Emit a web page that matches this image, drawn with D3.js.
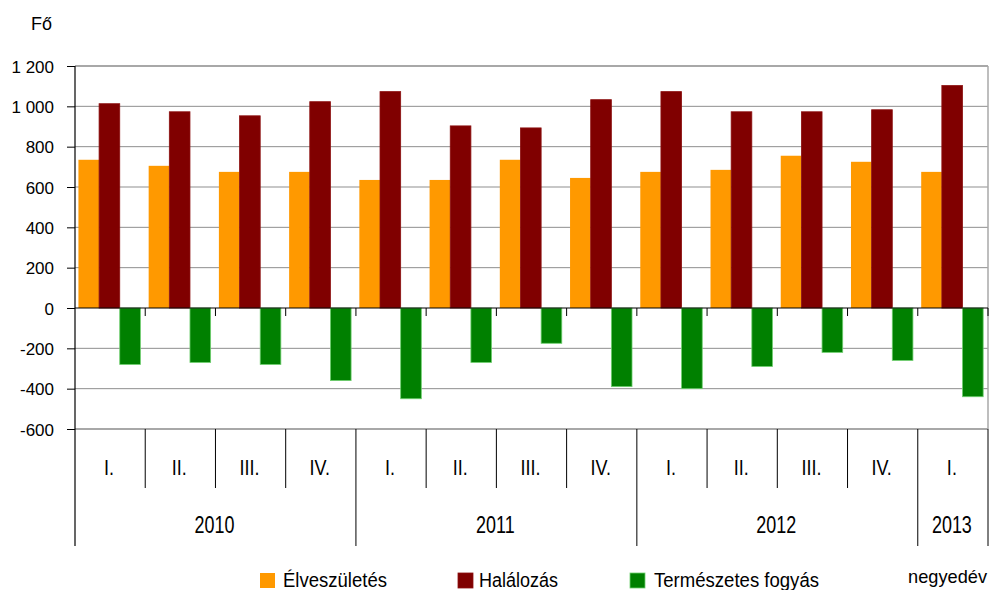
<!DOCTYPE html>
<html>
<head>
<meta charset="utf-8">
<script src="https://cdn.jsdelivr.net/npm/d3@7/dist/d3.min.js"></script>
<style>
  html, body { margin: 0; padding: 0; background: #fff; }
  svg { display: block; font-family: "Liberation Sans", Arial, sans-serif; }
</style>
</head>
<body>
<svg id="chart" width="989" height="590"></svg>
<script>
// ---- data ----
const quarters = ["I.", "II.", "III.", "IV.", "I.", "II.", "III.", "IV.", "I.", "II.", "III.", "IV.", "I."];
const years = ["2010", "2010", "2010", "2010", "2011", "2011", "2011", "2011", "2012", "2012", "2012", "2012", "2013"];
const yearLabels = ["2010", "2011", "2012", "2013"];
const births = [735, 705, 675, 675, 635, 635, 735, 645, 675, 685, 755, 725, 675];
const deaths = [1013, 973, 953, 1023, 1073, 903, 893, 1033, 1073, 973, 973, 983, 1103];
const naturalDecrease = [-280, -270, -280, -360, -450, -270, -175, -390, -400, -290, -220, -260, -440];
const seriesNames = ["Élveszületés", "Halálozás", "Természetes fogyás"];
const yTicks = [-600, -400, -200, 0, 200, 400, 600, 800, 1000, 1200];
const yTickLabels = ["-600", "-400", "-200", "0", "200", "400", "600", "800", "1 000", "1 200"];
const yUnit = "Fő";
const xUnit = "negyedév";

const colors = ["#FF9900", "#800000", "#008000"];
const strokes = ["#FF9900", "#8c1010", "#6fcf6f"];

const svg = d3.select("#chart");
const pLeft = 75, pRight = 988, pTop = 66, pBottom = 429;

const idx = quarters.map((d, i) => i);
const x = d3.scaleBand().domain(idx).range([pLeft, pRight]).paddingInner(0).paddingOuter(0);
const xs = d3.scaleBand().domain([0, 1, 2]).range([0, x.bandwidth()]).paddingInner(0).paddingOuter(0.2);
const y = d3.scaleLinear().domain([-600, 1200]).range([pBottom, pTop]);

// gridlines
svg.append("g").selectAll("line").data(yTicks.filter(t => t !== 0 && t !== 1200 && t !== -600)).join("line")
  .attr("x1", pLeft).attr("x2", pRight)
  .attr("y1", d => y(d)).attr("y2", d => y(d))
  .attr("stroke", "#8f8f8f").attr("stroke-width", 1);

// plot border (top, right, bottom)
svg.append("line").attr("x1", pLeft).attr("x2", pRight).attr("y1", y(1200)).attr("y2", y(1200))
  .attr("stroke", "#a8a8a8").attr("stroke-width", 2);
svg.append("line").attr("x1", pLeft).attr("x2", pRight).attr("y1", y(-600)).attr("y2", y(-600))
  .attr("stroke", "#a8a8a8").attr("stroke-width", 2);
svg.append("line").attr("x1", pRight).attr("x2", pRight).attr("y1", y(1200)).attr("y2", y(-600))
  .attr("stroke", "#a8a8a8").attr("stroke-width", 1.5);

// bars
const allSeries = [births, deaths, naturalDecrease];
allSeries.forEach((vals, s) => {
  svg.append("g").selectAll("rect").data(vals).join("rect")
    .attr("x", (d, i) => x(i) + xs(s) - 0.7)
    .attr("width", xs.bandwidth())
    .attr("y", d => y(Math.max(0, d)))
    .attr("height", d => Math.abs(y(d) - y(0)))
    .attr("fill", colors[s])
    .attr("stroke", strokes[s])
    .attr("stroke-width", s === 0 ? 0 : 0.8);
});

// zero line with category ticks
svg.append("line").attr("x1", pLeft).attr("x2", pRight).attr("y1", y(0)).attr("y2", y(0))
  .attr("stroke", "#000").attr("stroke-width", 1);
svg.append("g").selectAll("line").data(idx.slice(1).concat([13])).join("line")
  .attr("x1", d => d < 13 ? x(d) : pRight).attr("x2", d => d < 13 ? x(d) : pRight)
  .attr("y1", y(0)).attr("y2", y(0) + 8)
  .attr("stroke", "#000").attr("stroke-width", 1);

// y axis
const yAxis = d3.axisLeft(y).tickValues(yTicks).tickSize(8)
  .tickFormat((d, i) => yTickLabels[i]);
const ya = svg.append("g").attr("transform", `translate(${pLeft},0)`).call(yAxis);
ya.select(".domain").remove();
ya.selectAll(".tick line").attr("stroke", "#000");
ya.selectAll(".tick text")
  .attr("x", -21).attr("dy", "0.36em")
  .attr("font-size", 17).attr("fill", "#000")
  .attr("font-family", "'Liberation Sans', Arial, sans-serif");
svg.append("line").attr("x1", pLeft).attr("x2", pLeft).attr("y1", y(1200)).attr("y2", 546)
  .attr("stroke", "#000").attr("stroke-width", 1.2);

// y unit
svg.append("text").attr("x", 31).attr("y", 30).attr("font-size", 19)
  .attr("textLength", 21).attr("lengthAdjust", "spacingAndGlyphs").text(yUnit);

// category separators below plot
const qLineBottom = 488, yLineBottom = 546;
idx.forEach(i => {
  if (i === 0) return;
  const isYear = years[i] !== years[i - 1];
  svg.append("line").attr("x1", x(i)).attr("x2", x(i))
    .attr("y1", pBottom).attr("y2", isYear ? yLineBottom : qLineBottom)
    .attr("stroke", "#000").attr("stroke-width", 1);
});
svg.append("line").attr("x1", pRight).attr("x2", pRight).attr("y1", pBottom).attr("y2", yLineBottom)
  .attr("stroke", "#000").attr("stroke-width", 1);

// quarter labels
svg.append("g").selectAll("text").data(quarters).join("text")
  .attr("transform", (d, i) => `translate(${x(i) + x.bandwidth() / 2 - 1},475) scale(0.82,1)`)
  .attr("text-anchor", "middle").attr("font-size", 22).attr("fill", "#000")
  .text(d => d);

// year labels
svg.append("g").selectAll("text").data(yearLabels).join("text")
  .attr("transform", yl => {
    const members = idx.filter(i => years[i] === yl);
    const cx = (x(members[0]) + x(members[members.length - 1]) + x.bandwidth()) / 2;
    return `translate(${cx - 1},533) scale(0.78,1)`;
  })
  .attr("text-anchor", "middle").attr("font-size", 23).attr("fill", "#000")
  .text(d => d);

// legend
const legendItems = [
  { sq: 260, tx: 283, w: 104 },
  { sq: 458, tx: 479, w: 79 },
  { sq: 630, tx: 654, w: 165 }
];
legendItems.forEach((it, s) => {
  svg.append("rect").attr("x", it.sq).attr("y", 573).attr("width", 15).attr("height", 15)
    .attr("fill", colors[s]).attr("stroke", strokes[s]).attr("stroke-width", s === 0 ? 0 : 0.8);
  svg.append("text").attr("x", it.tx).attr("y", 587).attr("font-size", 20)
    .attr("textLength", it.w).attr("lengthAdjust", "spacingAndGlyphs")
    .text(seriesNames[s]);
});
svg.append("text").attr("x", 908).attr("y", 583).attr("font-size", 19)
  .attr("textLength", 79).attr("lengthAdjust", "spacingAndGlyphs").text(xUnit);
</script>
</body>
</html>
